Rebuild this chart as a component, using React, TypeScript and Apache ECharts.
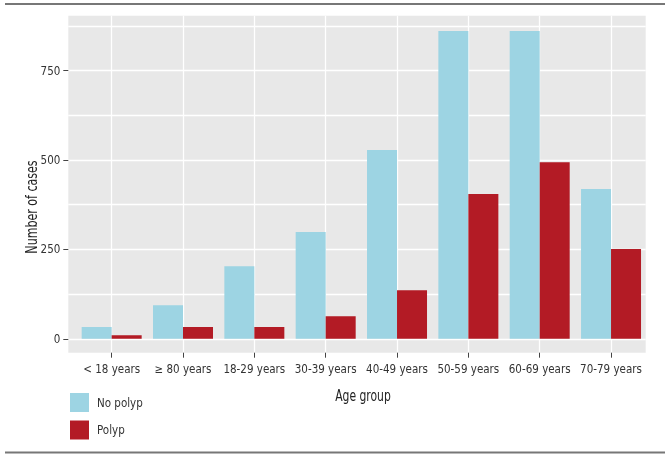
import React, { useEffect, useRef } from "react";
import * as echarts from "echarts";

const categories = ["< 18 years", "\u2265 80 years", "18-29 years", "30-39 years", "40-49 years", "50-59 years", "60-69 years", "70-79 years"];
const noPolyp = [33, 94, 203, 299, 528, 861, 861, 419];
const polyp = [10, 33, 33, 63, 136, 405, 494, 251];
const yMajorTicks = [0, 250, 500, 750];
const yMinorTicks = [125, 375, 625, 875];
const seriesNames = ["No polyp", "Polyp"];

const FONT = "'DejaVu Sans Condensed', 'Liberation Sans', sans-serif";
const BLUE = "#9dd4e3";
const RED = "#b31b25";

export default function App() {
  const ref = useRef<HTMLDivElement>(null);
  useEffect(() => {
    if (!ref.current) return;
    const chart = echarts.init(ref.current, null, { renderer: "svg" });
    const idx = categories.map((_, i) => i);
    chart.setOption({
      animation: false,
      textStyle: { fontFamily: FONT },
      grid: {
        left: 68.3,
        right: 24.3,
        top: 15.7,
        bottom: 108.3,
        show: true,
        backgroundColor: "#e8e8e8",
        borderWidth: 0,
        outerBoundsMode: "none",
        containLabel: false,
      },
      legend: {
        orient: "vertical",
        left: 70,
        top: 393,
        padding: 0,
        itemWidth: 19,
        itemHeight: 19,
        itemGap: 8.5,
        icon: "rect",
        data: seriesNames,
        textStyle: { fontFamily: FONT, fontSize: 11.5, color: "#333", padding: [0, 0, 0, 3] },
        selectedMode: false,
      },
      xAxis: {
        type: "value",
        min: -0.608,
        max: 7.486,
        axisLine: { show: false, onZero: false },
        axisTick: { show: true, length: 5, lineStyle: { color: "#444", width: 1 }, customValues: idx },
        axisLabel: {
          customValues: idx,
          formatter: (v: number) => categories[Math.round(v)] ?? "",
          fontFamily: FONT,
          fontSize: 11.5,
          color: "#333",
          margin: 10,
        },
        splitLine: { show: true, lineStyle: { color: "#ffffff", width: 1.3 } },
      },
      yAxis: [
        {
          type: "value",
          min: -39,
          max: 904,
          axisLine: { show: false, onZero: false },
          axisTick: { show: true, length: 5, lineStyle: { color: "#444", width: 1 }, customValues: yMajorTicks },
          axisLabel: {
            customValues: yMajorTicks,
            fontFamily: FONT,
            fontSize: 11.5,
            color: "#333",
            margin: 8,
          },
          splitLine: { show: true, lineStyle: { color: "#ffffff", width: 1.3 } },
        },
        {
          type: "value",
          min: -39,
          max: 904,
          position: "left",
          axisLine: { show: false, onZero: false },
          axisTick: { show: false, customValues: yMinorTicks },
          axisLabel: { show: false, customValues: yMinorTicks },
          splitLine: { show: true, lineStyle: { color: "#ffffff", width: 1.3 } },
        },
      ],
      graphic: [
        {
          type: "line",
          shape: { x1: 5, y1: 4, x2: 665, y2: 4 },
          style: { stroke: "#777", lineWidth: 2 },
        },
        {
          type: "line",
          shape: { x1: 5, y1: 452.5, x2: 665, y2: 452.5 },
          style: { stroke: "#777", lineWidth: 2 },
        },
        {
          type: "text",
          x: 32,
          y: 207,
          rotation: Math.PI / 2,
          scaleX: 0.82,
          style: {
            text: "Number of cases",
            fontFamily: FONT,
            fontSize: 15,
            fill: "#222",
            align: "center",
            verticalAlign: "middle",
          },
        },
        {
          type: "text",
          x: 363,
          y: 395,
          scaleX: 0.8,
          style: {
            text: "Age group",
            fontFamily: FONT,
            fontSize: 15,
            fill: "#222",
            align: "center",
            verticalAlign: "middle",
          },
        },
      ],
      series: [
        {
          name: seriesNames[0],
          type: "bar",
          data: idx.map((i) => [i, noPolyp[i]]),
          barWidth: 30,
          barGap: "0%",
          itemStyle: { color: BLUE },
        },
        {
          name: seriesNames[1],
          type: "bar",
          data: idx.map((i) => [i, polyp[i]]),
          barWidth: 30,
          barGap: "0%",
          itemStyle: { color: RED },
        },
      ],
    });
    return () => chart.dispose();
  }, []);
  return <div ref={ref} style={{ position: "fixed", left: 0, top: 0, width: 670, height: 461 }} />;
}
